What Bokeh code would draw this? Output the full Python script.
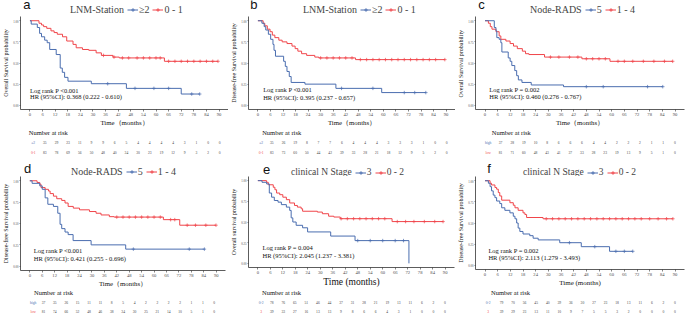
import numpy as np
from bokeh.plotting import figure
from bokeh.layouts import column, row
from bokeh.models import (Range1d, Legend, LegendItem, Label, FixedTicker,
                          NumeralTickFormatter, ColumnDataSource)
from bokeh.embed import file_html
from bokeh.resources import INLINE
from bokeh.core.properties import value

SERIF = "Liberation Serif"
SANS = "Liberation Sans"
BLUE = "#4A6DAF"
RED = "#F0454A"

TICKS = list(range(0, 91, 6))
Y_TICKS = [0.0, 0.25, 0.5, 0.75, 1.0]

# ---------------- panel a ----------------
A_GROUP = "LNM-Station"
A_LABELS = ["≥2", "0 - 1"]
A_RISK_LABELS = ["≥2", "0-1"]
A_YLABEL = "Overall Survival probability"
A_BLUE_T = [0, 0.6, 3.5, 4.6, 5.5, 7, 8.2, 9.4, 12.5, 14.4, 15.4, 16.5, 18.1, 29.2, 45.9, 72]
A_BLUE_S = [1, 0.96, 0.92, 0.85, 0.81, 0.77, 0.74, 0.66, 0.60, 0.44, 0.39, 0.33, 0.285, 0.255, 0.20, 0.133]
A_BLUE_END = 80.8
A_RED_T = [0, 4.3, 5.5, 6.5, 8, 10, 11.5, 13, 15.5, 17.5, 20.5, 22, 25, 28, 31.5, 34, 39.5, 42.5, 64]
A_RED_S = [1.0, 0.97, 0.95, 0.93, 0.91, 0.88, 0.86, 0.84, 0.81, 0.76, 0.72, 0.68, 0.66, 0.65, 0.62, 0.59, 0.57, 0.56, 0.52]
A_RED_END = 89.5
A_BLUE_CENS = [37, 50, 59, 66, 77, 80.8]
A_RED_CENS = [35, 40, 44, 47, 51, 54, 57, 60, 62, 66, 69, 72, 75, 78, 81, 84, 87, 89.5]
A_STATS = ["Log rank P <0.001", "HR (95%CI): 0.368 (0.222 - 0.610)"]
A_RISK_BLUE = [35, 29, 23, 11, 9, 9, 6, 5, 4, 4, 4, 4, 3, 1, 0, 0]
A_RISK_RED = [83, 78, 69, 56, 50, 48, 40, 34, 30, 23, 19, 12, 9, 3, 2, 0]

# ---------------- panel b ----------------
B_GROUP = "LNM-Station"
B_LABELS = ["≥2", "0 - 1"]
B_RISK_LABELS = ["≥2", "0-1"]
B_YLABEL = "Disease-free Survival probability"
B_BLUE_T = [0, 1.9, 3.0, 3.75, 5, 6.1, 7.2, 7.7, 8.4, 12.3, 13.1, 13.9, 15, 15.9, 22.5, 37.3, 59.2]
B_BLUE_S = [1, 0.97, 0.93, 0.89, 0.84, 0.78, 0.72, 0.65, 0.58, 0.52, 0.46, 0.40, 0.34, 0.27, 0.25, 0.20, 0.15]
B_BLUE_END = 80.3
B_RED_T = [0, 2.5, 3.3, 4.5, 5.8, 6.9, 8.1, 10, 11.6, 13.9, 16.3, 17.8, 19.1, 20.9, 23.3, 27.2, 29.1, 46.7]
B_RED_S = [1, 0.97, 0.94, 0.90, 0.87, 0.83, 0.80, 0.77, 0.75, 0.73, 0.70, 0.67, 0.64, 0.61, 0.59, 0.57, 0.56, 0.54]
B_RED_END = 89.4
B_BLUE_CENS = [40, 55, 70, 75, 80.3]
B_RED_CENS = [30, 33, 36, 39, 42, 45, 49, 52, 55, 58, 61, 64, 67, 70, 73, 76, 79, 82, 85, 89.4]
B_STATS = ["Log rank P <0.001", "HR (95%CI): 0.395 (0.237 - 0.657)"]
B_RISK_BLUE = [35, 26, 19, 8, 7, 7, 6, 4, 4, 4, 3, 3, 3, 1, 0, 0]
B_RISK_RED = [83, 73, 60, 50, 44, 42, 39, 33, 28, 21, 18, 12, 9, 5, 2, 0]

# ---------------- panel c ----------------
C_GROUP = "Node-RADS"
C_LABELS = ["5", "1 - 4"]
C_RISK_LABELS = ["high", "low"]
C_YLABEL = "Overall Survival  probability"
C_BLUE_T = [0, 4.4, 5.2, 5.6, 6.7, 7.5, 8, 11, 11.9, 12.7, 14.1, 15, 15.8, 17.5, 21.9, 37.2]
C_BLUE_S = [1, 0.92, 0.88, 0.80, 0.78, 0.74, 0.63, 0.56, 0.52, 0.47, 0.41, 0.35, 0.30, 0.27, 0.24, 0.22]
C_BLUE_END = 84.2
C_RED_T = [0, 1.6, 2.5, 3.3, 5.2, 6.7, 7.5, 9.9, 11.9, 13.5, 15.3, 17.7, 19.2, 20.8, 28.2, 45.9, 59.2]
C_RED_S = [1, 0.97, 0.93, 0.90, 0.87, 0.82, 0.78, 0.76, 0.73, 0.70, 0.67, 0.64, 0.61, 0.60, 0.57, 0.55, 0.52]
C_RED_END = 88.9
C_BLUE_CENS = [48, 56, 77, 84.2]
C_RED_CENS = [31, 35, 40, 44, 48, 51, 54, 57, 63, 66, 70, 75, 80, 85, 88.9]
C_STATS = ["Log rank P = 0.002", "HR (95%CI): 0.460 (0.276 - 0.767)"]
C_RISK_BLUE = [37, 28, 19, 10, 8, 6, 6, 6, 4, 4, 2, 2, 2, 1, 1, 0]
C_RISK_RED = [81, 71, 60, 48, 43, 41, 37, 33, 28, 23, 19, 13, 9, 5, 1, 0]

# ---------------- panel d ----------------
D_GROUP = "Node-RADS"
D_LABELS = ["5", "1 - 4"]
D_RISK_LABELS = ["high", "low"]
D_YLABEL = "Disease-free Survival probability"
D_BLUE_T = [0, 1.1, 4.8, 6, 7.4, 8.7, 11.4, 13.5, 14.6, 15.4, 17, 18.5, 20.9, 29.6, 46.3]
D_BLUE_S = [1, 0.97, 0.94, 0.90, 0.80, 0.725, 0.70, 0.62, 0.49, 0.44, 0.40, 0.37, 0.30, 0.25, 0.20]
D_BLUE_END = 84.3
D_RED_T = [0, 3.5, 4.8, 5.4, 7.4, 9, 9.8, 11.4, 13, 15.4, 17, 18.5, 21, 24, 28.8, 32, 34.4, 38.4, 40.7, 64.5, 72.4]
D_RED_S = [1, 0.98, 0.96, 0.92, 0.90, 0.88, 0.85, 0.82, 0.79, 0.77, 0.74, 0.70, 0.68, 0.66, 0.64, 0.62, 0.60, 0.58, 0.575, 0.545, 0.48]
D_RED_END = 89.9
D_BLUE_CENS = [50, 77, 84.3]
D_RED_CENS = [42, 45, 48, 51, 54, 57, 60, 63, 68, 70, 76, 80, 85, 89.9]
D_STATS = ["Log rank P <0.001", "HR (95%CI): 0.421 (0.255 - 0.696)"]
D_RISK_BLUE = [37, 35, 26, 15, 11, 11, 8, 5, 4, 2, 2, 2, 2, 1, 1, 0]
D_RISK_RED = [81, 74, 66, 52, 48, 46, 38, 34, 30, 25, 21, 14, 10, 5, 1, 0]

# ---------------- panel e ----------------
E_GROUP = "clinical N Stage"
E_LABELS = ["3", "0 - 2"]
E_RISK_LABELS = ["0-2", "3"]
E_YLABEL = "Overall survival probability"
E_BLUE_T = [0, 2, 4.2, 5.5, 6.6, 7.9, 9.7, 11.3, 13.7, 15.3, 16, 16.8, 18.4, 21.5, 23.9, 35, 46.7, 72.6]
E_BLUE_S = [1, 0.98, 0.96, 0.85, 0.80, 0.76, 0.74, 0.71, 0.68, 0.64, 0.55, 0.50, 0.46, 0.43, 0.38, 0.33, 0.275, 0.0]
E_BLUE_END = 72.6
E_RED_T = [0, 4.2, 5, 7.4, 8.2, 9, 10.5, 12, 13.7, 15.3, 17.6, 19, 20.8, 21.5, 28.6, 31, 34, 36.5, 39.6, 64.5]
E_RED_S = [1, 0.98, 0.95, 0.92, 0.89, 0.85, 0.83, 0.80, 0.77, 0.73, 0.70, 0.68, 0.66, 0.63, 0.62, 0.60, 0.57, 0.56, 0.54, 0.505]
E_RED_END = 89
E_BLUE_CENS = [48, 54, 60, 66, 70]
E_RED_CENS = [40, 43, 46, 49, 52, 55, 58, 61, 67, 71, 75, 80, 85, 89]
E_STATS = ["Log rank P = 0.004", "HR (95%CI): 2.045 (1.237 - 3.381)"]
E_RISK_BLUE = [78, 76, 65, 51, 46, 44, 37, 31, 28, 21, 19, 13, 11, 6, 2, 0]
E_RISK_RED = [39, 33, 27, 16, 13, 13, 9, 8, 6, 6, 4, 3, 1, 0, 0, 0]

# ---------------- panel f ----------------
F_GROUP = "clinical N Stage"
F_LABELS = ["3", "0 - 2"]
F_RISK_LABELS = ["0-2", "3"]
F_YLABEL = "Disease-free Survival probability"
F_BLUE_T = [0, 1.6, 2.4, 3.1, 3.9, 4.7, 5.5, 7, 7.9, 9.4, 11.8, 13.4, 14.2, 15, 15.7, 16.5, 18, 21.2, 22.8, 25.2, 35.4, 45.6, 59]
F_BLUE_S = [1, 0.97, 0.93, 0.88, 0.83, 0.80, 0.76, 0.73, 0.68, 0.65, 0.62, 0.58, 0.55, 0.50, 0.44, 0.40, 0.37, 0.35, 0.32, 0.30, 0.267, 0.22, 0.165]
F_BLUE_END = 70
F_RED_T = [0, 2.4, 3.1, 4.7, 5.5, 6.3, 7, 7.9, 11.8, 13.4, 14.2, 15.7, 18, 18.9, 19.7, 27.5]
F_RED_S = [1, 0.97, 0.95, 0.92, 0.90, 0.86, 0.82, 0.77, 0.74, 0.71, 0.68, 0.65, 0.62, 0.60, 0.565, 0.55]
F_RED_END = 89
F_BLUE_CENS = [40, 52, 62, 66, 70]
F_RED_CENS = [29, 32, 35, 38, 41, 44, 47, 50, 53, 56, 59, 62, 65, 68, 71, 74, 78, 82, 86, 89]
F_STATS = ["Log rank P = 0.002", "HR (95%CI): 2.113 (1.279 - 3.493)"]
F_RISK_BLUE = [79, 70, 56, 45, 40, 39, 36, 30, 27, 23, 18, 13, 11, 6, 2, 0]
F_RISK_RED = [39, 29, 23, 13, 11, 10, 9, 7, 5, 5, 3, 2, 0, 0, 0, 0]

XLABEL_FW = "Time\uff08months\uff09"
XLABEL_HW = "Time (months)"


def step_xy(t, s, end):
    return list(t) + [end], list(s) + [s[-1]]


def surv_at(t, s, c):
    idx = np.searchsorted(np.asarray(t, float), np.asarray(c, float), side="right") - 1
    return list(np.asarray(s, float)[idx])


def bare_figure(width, height, xr, yr):
    f = figure(width=width, height=height, x_range=xr, y_range=yr,
               x_axis_type=None, y_axis_type=None, output_backend="svg",
               toolbar_location=None, min_border_left=0, min_border_right=0,
               min_border_top=0, min_border_bottom=0)
    f.outline_line_color = None
    f.grid.visible = False
    return f


def make_panel(sp):
    width, left, right = sp["width"], sp["left"], sp["right"]
    top_row = sp["top_row"]
    hh = 16 if top_row else 19
    bottom = 15 if top_row else sp.get("bottom", 15)
    H = (128 if top_row else 132) - hh
    frame_w = width - left - right
    ppm = frame_w / 99.0

    # ---- header: panel letter + legend ----
    h = bare_figure(width, hh, Range1d(0, width), Range1d(0, hh))
    h.text(x=[sp["letter_px"]], y=[hh - sp["letter_mid"]], text=[sp["letter"]],
           text_font=value(SANS), text_font_size="13px", text_baseline="middle",
           text_align="left", text_color="#111111")
    far = [-1000]
    d0 = h.line(far, far, line_alpha=0)
    db = h.line(far, far, line_color=BLUE, line_width=1)
    dbc = h.scatter(far, far, marker="cross", size=5, line_color=BLUE, line_width=0.9)
    dr = h.line(far, far, line_color=RED, line_width=1)
    drc = h.scatter(far, far, marker="cross", size=5, line_color=RED, line_width=0.9)
    leg = Legend(items=[LegendItem(label=sp["group"], renderers=[d0]),
                        LegendItem(label=sp["labels"][0], renderers=[db, dbc]),
                        LegendItem(label=sp["labels"][1], renderers=[dr, drc])],
                 orientation="horizontal",
                 location=(sp["leg_x"], 1 if top_row else -1), margin=0, padding=0, spacing=3,
                 label_text_font=SERIF, label_text_font_size=sp["leg_size"],
                 label_standoff=1, glyph_width=11, glyph_height=9,
                 label_height=9, label_width=5,
                 border_line_alpha=0, background_fill_alpha=0)
    h.add_layout(leg)

    # ---- KM plot ----
    p = figure(width=width, height=H, x_range=Range1d(-4.5, 94.5), y_range=Range1d(-0.05, 1.05),
               output_backend="svg", toolbar_location=None,
               min_border_left=left, min_border_right=right,
               min_border_top=0, min_border_bottom=bottom)
    p.outline_line_color = None
    p.grid.visible = False

    xa = p.xaxis[0]
    xa.ticker = FixedTicker(ticks=TICKS)
    xa.axis_label = sp["xlabel"]
    xa.axis_label_text_font = SERIF
    xa.axis_label_text_font_size = sp["xlabel_size"]
    xa.axis_label_text_font_style = "normal"
    xa.axis_label_text_color = "#111111"
    xa.axis_label_standoff = 0
    xa.major_label_text_font = SERIF
    xa.major_label_text_font_size = "4.6px"
    xa.major_label_text_color = "#4D4D4D"
    xa.major_label_standoff = 1
    xa.major_tick_out = 2
    xa.major_tick_in = 0
    xa.minor_tick_line_color = None
    xa.axis_line_color = "#333333"
    xa.major_tick_line_color = "#333333"
    xa.axis_line_width = 0.8
    xa.major_tick_line_width = 0.6

    ya = p.yaxis[0]
    ya.ticker = FixedTicker(ticks=Y_TICKS)
    ya.formatter = NumeralTickFormatter(format="0.00")
    ya.axis_label = sp["ylabel"]
    ya.axis_label_text_font = SERIF
    ya.axis_label_text_font_size = "6px"
    ya.axis_label_text_font_style = "normal"
    ya.axis_label_text_color = "#111111"
    ya.axis_label_standoff = 1
    ya.major_label_text_font = SERIF
    ya.major_label_text_font_size = "3px"
    ya.major_label_text_color = "#4D4D4D"
    ya.major_label_standoff = 1
    ya.major_tick_out = 1
    ya.major_tick_in = 0
    ya.minor_tick_line_color = None
    ya.axis_line_color = "#333333"
    ya.major_tick_line_color = "#333333"
    ya.axis_line_width = 0.8
    ya.major_tick_line_width = 0.6

    bx, by = step_xy(sp["blue_t"], sp["blue_s"], sp["blue_end"])
    rx, ry = step_xy(sp["red_t"], sp["red_s"], sp["red_end"])
    p.step(rx, ry, mode="after", line_color=RED, line_width=1)
    p.step(bx, by, mode="after", line_color=BLUE, line_width=1)
    p.scatter(sp["red_c"], surv_at(sp["red_t"], sp["red_s"], sp["red_c"]),
              marker="cross", size=3.5, line_color=RED, line_width=0.7)
    p.scatter(sp["blue_c"], surv_at(sp["blue_t"], sp["blue_s"], sp["blue_c"]),
              marker="cross", size=3.5, line_color=BLUE, line_width=0.7)

    for txt, yy in zip(sp["stats"], sp["stat_y"]):
        p.add_layout(Label(x=sp["stat_x"], y=yy, text=txt, text_font=SERIF,
                           text_font_size="6.5px", text_baseline="middle",
                           text_color="#111111"))

    # ---- risk table ----
    if top_row:
        rh, y_lo, y_hi, head_y = 29, -0.5, 2.4, 2.05
    else:
        rh, y_lo, y_hi, head_y = 26, -0.444, 2.444, 2.111
    r = bare_figure(width, rh, Range1d(-4.5 - left / ppm, 94.5 + right / ppm),
                    Range1d(y_lo, y_hi))
    src = ColumnDataSource(dict(
        x=TICKS + TICKS,
        y=[1] * len(TICKS) + [0] * len(TICKS),
        t=[str(v) for v in sp["risk_blue"]] + [str(v) for v in sp["risk_red"]]))
    r.text(x="x", y="y", text="t", source=src, text_font=value(SERIF),
           text_font_size="3.6px", text_align="center", text_baseline="middle",
           text_color="#444444")
    rlx = -4.5 - (left - 14) / ppm
    r.text(x=[rlx, rlx], y=[1, 0], text=sp["risk_labels"], text_color=[BLUE, RED],
           text_font=value(SERIF), text_font_size="3.6px", text_align="center",
           text_baseline="middle")
    hx = -4.5 - (left - sp["head_px"]) / ppm
    r.text(x=[hx], y=[head_y], text=["Number at risk"], text_font=value(SERIF),
           text_font_size="6.5px", text_align="left", text_baseline="middle",
           text_color="#111111")
    return column(h, p, r, spacing=0)


specs = [
    dict(letter="a", group=A_GROUP, labels=A_LABELS, risk_labels=A_RISK_LABELS, ylabel=A_YLABEL,
         blue_t=A_BLUE_T, blue_s=A_BLUE_S, blue_end=A_BLUE_END, red_t=A_RED_T, red_s=A_RED_S,
         red_end=A_RED_END, blue_c=A_BLUE_CENS, red_c=A_RED_CENS, stats=A_STATS,
         risk_blue=A_RISK_BLUE, risk_red=A_RISK_RED,
         xlabel=XLABEL_FW, xlabel_size="6.8px", width=228, left=17, right=0, top_row=True,
         letter_px=3, letter_mid=4.2, head_px=9, stat_x=0, stat_y=[0.18, 0.10],
         leg_x=38, leg_size="10px"),
    dict(letter="b", group=B_GROUP, labels=B_LABELS, risk_labels=B_RISK_LABELS, ylabel=B_YLABEL,
         blue_t=B_BLUE_T, blue_s=B_BLUE_S, blue_end=B_BLUE_END, red_t=B_RED_T, red_s=B_RED_S,
         red_end=B_RED_END, blue_c=B_BLUE_CENS, red_c=B_RED_CENS, stats=B_STATS,
         risk_blue=B_RISK_BLUE, risk_red=B_RISK_RED,
         xlabel=XLABEL_FW, xlabel_size="6.8px", width=227, left=16, right=0, top_row=True,
         letter_px=2, letter_mid=4.2, head_px=15, stat_x=2.5, stat_y=[0.185, 0.09],
         leg_x=43, leg_size="10px"),
    dict(letter="c", group=C_GROUP, labels=C_LABELS, risk_labels=C_RISK_LABELS, ylabel=C_YLABEL,
         blue_t=C_BLUE_T, blue_s=C_BLUE_S, blue_end=C_BLUE_END, red_t=C_RED_T, red_s=C_RED_S,
         red_end=C_RED_END, blue_c=C_BLUE_CENS, red_c=C_RED_CENS, stats=C_STATS,
         risk_blue=C_RISK_BLUE, risk_red=C_RISK_RED,
         xlabel=XLABEL_FW, xlabel_size="6.8px", width=230, left=18, right=1, top_row=True,
         letter_px=3, letter_mid=4.2, head_px=18, stat_x=2, stat_y=[0.185, 0.10],
         leg_x=43, leg_size="10px"),
    dict(letter="d", group=D_GROUP, labels=D_LABELS, risk_labels=D_RISK_LABELS, ylabel=D_YLABEL,
         blue_t=D_BLUE_T, blue_s=D_BLUE_S, blue_end=D_BLUE_END, red_t=D_RED_T, red_s=D_RED_S,
         red_end=D_RED_END, blue_c=D_BLUE_CENS, red_c=D_RED_CENS, stats=D_STATS,
         risk_blue=D_RISK_BLUE, risk_red=D_RISK_RED,
         xlabel=XLABEL_FW, xlabel_size="6.8px", width=228, left=16, right=3, top_row=False,
         letter_px=4, letter_mid=11.3, head_px=15, stat_x=1.9, stat_y=[0.18, 0.085],
         leg_x=39, leg_size="10px"),
    dict(letter="e", group=E_GROUP, labels=E_LABELS, risk_labels=E_RISK_LABELS, ylabel=E_YLABEL,
         blue_t=E_BLUE_T, blue_s=E_BLUE_S, blue_end=E_BLUE_END, red_t=E_RED_T, red_s=E_RED_S,
         red_end=E_RED_END, blue_c=E_BLUE_CENS, red_c=E_RED_CENS, stats=E_STATS,
         risk_blue=E_RISK_BLUE, risk_red=E_RISK_RED,
         xlabel=XLABEL_HW, xlabel_size="9.5px", width=227, left=16, right=1, top_row=False,
         bottom=17,
         letter_px=16, letter_mid=11.8, head_px=15, stat_x=2.2, stat_y=[0.19, 0.09],
         leg_x=31, leg_size="9.5px"),
    dict(letter="f", group=F_GROUP, labels=F_LABELS, risk_labels=F_RISK_LABELS, ylabel=F_YLABEL,
         blue_t=F_BLUE_T, blue_s=F_BLUE_S, blue_end=F_BLUE_END, red_t=F_RED_T, red_s=F_RED_S,
         red_end=F_RED_END, blue_c=F_BLUE_CENS, red_c=F_RED_CENS, stats=F_STATS,
         risk_blue=F_RISK_BLUE, risk_red=F_RISK_RED,
         xlabel=XLABEL_HW, xlabel_size="7px", width=230, left=19, right=1, top_row=False,
         letter_px=13, letter_mid=11.3, head_px=17, stat_x=1.6, stat_y=[0.18, 0.09],
         leg_x=36, leg_size="9.5px"),
]

panels = [make_panel(s) for s in specs]
layout = column(row(*panels[:3], spacing=0), row(*panels[3:], spacing=0), spacing=0)

open("out.html", "w").write(file_html(layout, INLINE))
